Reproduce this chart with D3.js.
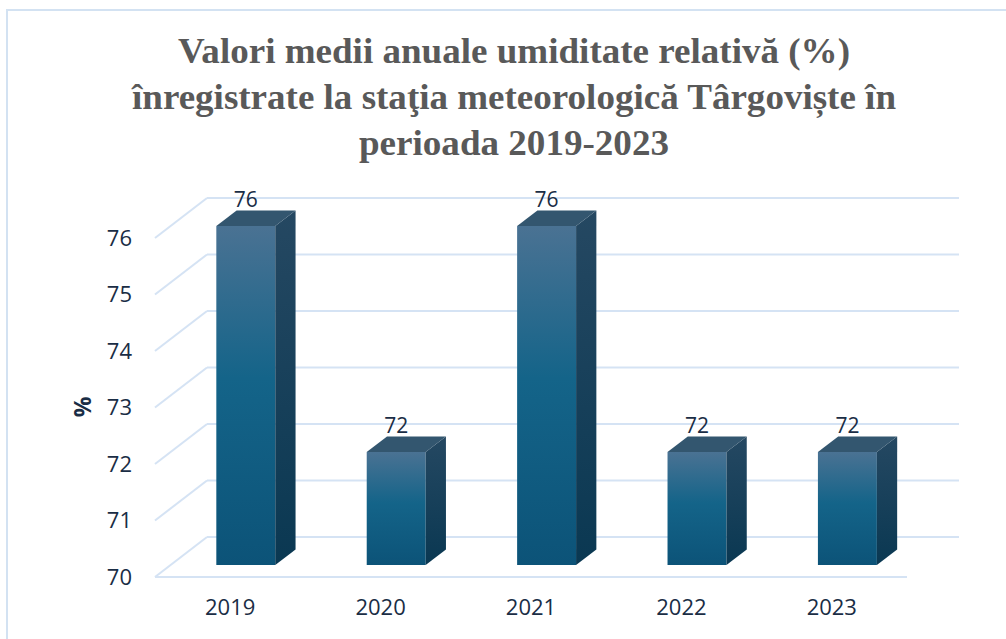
<!DOCTYPE html>
<html>
<head>
<meta charset="utf-8">
<script src="https://cdn.jsdelivr.net/npm/d3@7"></script>
<style>
  html, body { margin: 0; padding: 0; background: #ffffff; }
  svg { display: block; }
</style>
</head>
<body>
<script>
// ---- data ----
const titleLines = [
  "Valori medii anuale umiditate relativă (%)",
  "înregistrate la staţia meteorologică Târgoviște în",
  "perioada 2019-2023"
];
const years = ["2019", "2020", "2021", "2022", "2023"];
const values = [76, 72, 76, 72, 72];
const yTicks = [70, 71, 72, 73, 74, 75, 76];
const yAxisTitle = "%";

// ---- layout ----
const W = 1006, H = 639;
const svg = d3.select("body").append("svg").attr("width", W).attr("height", H);
const sansFont = "'Open Sans', 'Liberation Sans', Arial, sans-serif";
const textColor = "#1a2d45";

const defs = svg.append("defs");
const gFront = defs.append("linearGradient").attr("id", "gFront").attr("x1", 0).attr("y1", 0).attr("x2", 0).attr("y2", 1);
gFront.append("stop").attr("offset", "0%").attr("stop-color", "#4a7293");
gFront.append("stop").attr("offset", "45%").attr("stop-color", "#146489");
gFront.append("stop").attr("offset", "100%").attr("stop-color", "#0c5378");
const gSide = defs.append("linearGradient").attr("id", "gSide").attr("x1", 0).attr("y1", 0).attr("x2", 0).attr("y2", 1);
gSide.append("stop").attr("offset", "0%").attr("stop-color", "#254862");
gSide.append("stop").attr("offset", "100%").attr("stop-color", "#0a3852");

// border
svg.append("rect").attr("x", 7).attr("y", 10).attr("width", 1100).attr("height", 800)
  .attr("fill", "none").attr("stroke", "#d3e2f2").attr("stroke-width", 2);

// title
const titleBase = [63, 109, 155];
const titleWidths = [672, 764, 310];
svg.append("g").selectAll("text").data(titleLines).join("text")
  .attr("x", 514).attr("y", (d, i) => titleBase[i])
  .attr("text-anchor", "middle")
  .attr("font-family", "'Liberation Serif', 'Times New Roman', serif")
  .attr("font-weight", "bold").attr("font-size", 35)
  .attr("fill", "#595959")
  .attr("textLength", (d, i) => titleWidths[i])
  .attr("lengthAdjust", "spacingAndGlyphs")
  .text(d => d);

const x0 = 155, x1 = 907;
const depth = { dx: 52, dy: -40 };
const x = d3.scaleBand().domain(years).range([x0, x1]).paddingInner(0.608).paddingOuter(0.304);
const y = d3.scaleLinear().domain([70, 76]).range([577, 238]);

const gridColor = "#d5e3f4";
const grid = svg.append("g");
grid.selectAll("line.diag").data(yTicks).join("line").attr("class", "diag")
  .attr("x1", x0).attr("y1", d => y(d)).attr("x2", x0 + depth.dx).attr("y2", d => y(d) + depth.dy)
  .attr("stroke", gridColor).attr("stroke-width", 2);
grid.selectAll("line.back").data(yTicks).join("line").attr("class", "back")
  .attr("x1", x0 + depth.dx).attr("y1", d => y(d) + depth.dy).attr("x2", x1 + depth.dx).attr("y2", d => y(d) + depth.dy)
  .attr("stroke", gridColor).attr("stroke-width", 2);
grid.append("line").attr("x1", x0).attr("y1", y(70)).attr("x2", x1).attr("y2", y(70))
  .attr("stroke", gridColor).attr("stroke-width", 2);

// bars
const t0 = 0.3, t1 = 0.69;
const bars = svg.append("g").selectAll("g").data(years.map((yr, i) => ({ yr, v: values[i] }))).join("g");
function pt(px, py) { return px + "," + py; }
bars.each(function (d) {
  const g = d3.select(this);
  const fx = x(d.yr) + t0 * depth.dx, fdy = t0 * depth.dy;
  const bw = x.bandwidth();
  const ddx = (t1 - t0) * depth.dx, ddy = (t1 - t0) * depth.dy;
  const top = y(d.v) + fdy, bot = y(70) + fdy;
  g.append("rect").attr("x", fx).attr("y", top).attr("width", bw).attr("height", bot - top).attr("fill", "url(#gFront)");
  g.append("polygon").attr("points", [pt(fx + bw, top), pt(fx + bw + ddx, top + ddy), pt(fx + bw + ddx, bot + ddy), pt(fx + bw, bot)].join(" "))
    .attr("fill", "url(#gSide)");
  g.append("polygon").attr("points", [pt(fx, top), pt(fx + ddx, top + ddy), pt(fx + bw + ddx, top + ddy), pt(fx + bw, top)].join(" "))
    .attr("fill", "#33566f");
  g.append("text").attr("x", fx + bw / 2).attr("y", top + ddy - 3)
    .attr("text-anchor", "middle").attr("font-family", sansFont)
    .attr("font-size", 21).attr("fill", textColor).text(d.v);
});

// y axis labels
svg.append("g").selectAll("text").data(yTicks).join("text")
  .attr("x", 132).attr("y", d => y(d)).attr("dy", "0.36em")
  .attr("text-anchor", "end").attr("font-family", sansFont)
  .attr("font-size", 22).attr("fill", textColor).text(d => d);

// x axis labels
svg.append("g").selectAll("text").data(years).join("text")
  .attr("x", d => x(d) + x.bandwidth() / 2).attr("y", 615)
  .attr("text-anchor", "middle").attr("font-family", sansFont)
  .attr("font-size", 22).attr("fill", textColor).text(d => d);

// y axis title
svg.append("text").attr("transform", "translate(91,407) rotate(-90)")
  .attr("text-anchor", "middle").attr("font-family", sansFont)
  .attr("font-weight", "bold").attr("font-size", 23).attr("fill", textColor).text(yAxisTitle);
</script>
</body>
</html>
